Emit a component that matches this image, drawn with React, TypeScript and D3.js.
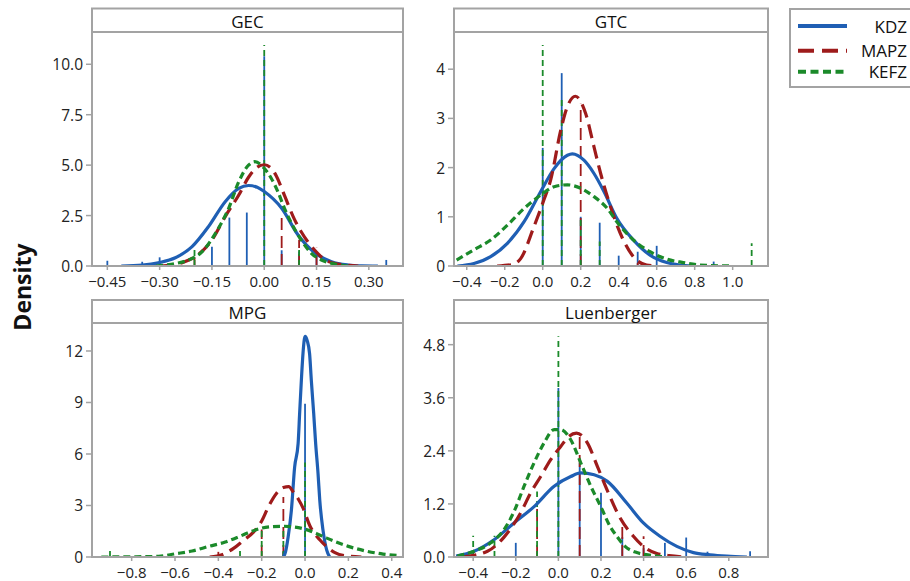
import React from 'react';
import * as d3 from 'd3';

// series names, colours, dash patterns
const seriesNames = ['KDZ', 'MAPZ', 'KEFZ'];
const seriesColors = ['#1f5fb4', '#9e1b1b', '#1b8a2a'];
const seriesDash = [null, '14,7', '7,4'];
const spikeDash = [null, '12,6', '6,4'];

// panel titles and axis ticks
const titles = ['GEC', 'GTC', 'MPG', 'Luenberger'];
const xTicks = [
  [-0.45, -0.3, -0.15, 0, 0.15, 0.3],
  [-0.4, -0.2, 0, 0.2, 0.4, 0.6, 0.8, 1.0],
  [-0.8, -0.6, -0.4, -0.2, 0, 0.2, 0.4],
  [-0.4, -0.2, 0, 0.2, 0.4, 0.6, 0.8],
];
const xTickFormats = ['.2f', '.1f', '.1f', '.1f'];
const yTicks = [
  [0, 2.5, 5, 7.5, 10],
  [0, 1, 2, 3, 4],
  [0, 3, 6, 9, 12],
  [0, 1.2, 2.4, 3.6, 4.8],
];
const yTickFormats = ['.1f', 'd', 'd', '.1f'];
const xDomains = [
  [-0.494, 0.398],
  [-0.467, 1.186],
  [-0.983, 0.452],
  [-0.49, 0.984],
];
const yDomains = [
  [0, 11.6],
  [0, 4.756],
  [0, 13.63],
  [0, 5.29],
];

// density curves [x, density]
const gecKdz = [[-0.41, 0], [-0.35, 0.04], [-0.3, 0.17], [-0.255, 0.41], [-0.207, 0.96], [-0.16, 1.95], [-0.112, 3.19], [-0.073, 3.85], [-0.045, 3.99], [-0.02, 3.9], [0, 3.69], [0.05, 2.86], [0.097, 1.54], [0.145, 0.66], [0.193, 0.21], [0.24, 0.05], [0.28, 0.01], [0.326, 0]];
const gecMapz = [[-0.3, 0], [-0.265, 0.05], [-0.23, 0.2], [-0.198, 0.46], [-0.15, 1.29], [-0.112, 2.45], [-0.073, 3.52], [-0.045, 4.4], [-0.02, 4.9], [0, 5.02], [0.02, 4.85], [0.035, 4.45], [0.058, 3.5], [0.087, 2.3], [0.106, 1.7], [0.125, 1.2], [0.145, 0.78], [0.173, 0.32], [0.21, 0.1], [0.27, 0]];
const gecKefz = [[-0.31, 0], [-0.284, 0.05], [-0.25, 0.14], [-0.217, 0.3], [-0.178, 0.71], [-0.14, 1.62], [-0.102, 2.86], [-0.073, 4.18], [-0.045, 5.0], [-0.027, 5.17], [-0.004, 4.92], [0.02, 4.35], [0.039, 3.69], [0.058, 2.86], [0.078, 2.12], [0.106, 1.29], [0.135, 0.63], [0.164, 0.3], [0.202, 0.1], [0.24, 0]];

const gtcKdz = [[-0.449, 0], [-0.362, 0.05], [-0.274, 0.19], [-0.186, 0.46], [-0.098, 0.9], [-0.011, 1.51], [0.06, 1.98], [0.13, 2.25], [0.156, 2.28], [0.217, 2.15], [0.27, 1.88], [0.323, 1.51], [0.39, 0.97], [0.477, 0.53], [0.565, 0.22], [0.653, 0.07], [0.72, 0.02], [0.79, 0]];
const gtcMapz = [[-0.24, 0], [-0.16, 0.03], [-0.116, 0.15], [-0.046, 0.8], [0.007, 1.35], [0.042, 1.75], [0.095, 2.76], [0.13, 3.24], [0.172, 3.45], [0.226, 3.1], [0.27, 2.42], [0.305, 1.88], [0.349, 1.3], [0.375, 1.0], [0.424, 0.53], [0.477, 0.19], [0.547, 0.02], [0.6, 0]];
const gtcKefz = [[-0.453, 0.12], [-0.362, 0.33], [-0.274, 0.53], [-0.186, 0.83], [-0.098, 1.17], [-0.011, 1.44], [0.06, 1.61], [0.13, 1.65], [0.2, 1.58], [0.27, 1.41], [0.34, 1.17], [0.39, 0.9], [0.477, 0.53], [0.565, 0.29], [0.653, 0.14], [0.74, 0.07], [0.828, 0.02], [1.0, 0]];

const mpgKdz = [[-0.1, 0], [-0.09, 0.3], [-0.078, 1.16], [-0.063, 2.72], [-0.048, 5.24], [-0.032, 6.6], [-0.025, 8.35], [-0.017, 10.29], [-0.009, 11.94], [0, 12.85], [0.01, 12.6], [0.021, 11.84], [0.029, 10.29], [0.04, 8.35], [0.049, 6.6], [0.06, 4.86], [0.068, 3.3], [0.083, 1.55], [0.1, 0.4], [0.114, 0]];
const mpgMapz = [[-0.44, 0], [-0.38, 0.15], [-0.33, 0.5], [-0.284, 0.97], [-0.238, 1.45], [-0.2, 2.1], [-0.17, 2.9], [-0.132, 3.7], [-0.1, 4.05], [-0.075, 4.1], [-0.055, 3.8], [-0.03, 3.35], [-0.009, 2.85], [0.021, 1.85], [0.068, 1.0], [0.1, 0.6], [0.138, 0.25], [0.18, 0.08], [0.26, 0]];
const mpgKefz = [[-0.94, 0], [-0.8, 0.01], [-0.675, 0.04], [-0.598, 0.19], [-0.521, 0.35], [-0.444, 0.62], [-0.368, 0.87], [-0.291, 1.26], [-0.245, 1.5], [-0.2, 1.68], [-0.15, 1.77], [-0.1, 1.79], [-0.05, 1.75], [0, 1.62], [0.054, 1.36], [0.1, 1.1], [0.138, 0.9], [0.2, 0.62], [0.276, 0.36], [0.36, 0.17], [0.44, 0.08]];

const luenKdz = [[-0.48, 0.02], [-0.396, 0.13], [-0.302, 0.39], [-0.208, 0.77], [-0.114, 1.14], [-0.02, 1.6], [0.058, 1.82], [0.105, 1.9], [0.168, 1.86], [0.23, 1.71], [0.321, 1.22], [0.399, 0.77], [0.477, 0.47], [0.556, 0.24], [0.634, 0.1], [0.712, 0.05], [0.791, 0.02], [0.885, 0]];
const luenMapz = [[-0.45, 0], [-0.333, 0.13], [-0.255, 0.45], [-0.177, 1.0], [-0.13, 1.45], [-0.083, 1.82], [-0.036, 2.2], [0.011, 2.5], [0.05, 2.73], [0.085, 2.8], [0.136, 2.58], [0.183, 2.05], [0.23, 1.5], [0.29, 0.88], [0.352, 0.47], [0.399, 0.24], [0.462, 0.08], [0.52, 0.03], [0.59, 0]];
const luenKefz = [[-0.474, 0.02], [-0.396, 0.13], [-0.317, 0.32], [-0.255, 0.62], [-0.208, 1.03], [-0.161, 1.6], [-0.114, 2.13], [-0.067, 2.58], [-0.02, 2.88], [0.011, 2.88], [0.058, 2.65], [0.105, 2.13], [0.152, 1.6], [0.199, 1.14], [0.243, 0.69], [0.274, 0.47], [0.313, 0.24], [0.368, 0.1], [0.446, 0.03], [0.5, 0]];

// vertical spikes [x, height]
const gecKdzSpikes = [[-0.45, 0.26], [-0.35, 0.21], [-0.3, 0.43], [-0.15, 0.95], [-0.1, 2.4], [-0.05, 2.65], [0, 10.4], [0.05, 0.78], [0.1, 0.72], [0.15, 0.5], [0.35, 0.3]];
const gecMapzSpikes = [[-0.2, 0.45], [0.05, 2.45], [0.1, 1.3], [0.15, 0.9]];
const gecKefzSpikes = [[-0.2, 0.99], [0, 10.96], [0.1, 0.9]];

const gtcKdzSpikes = [[0, 2.4], [0.1, 3.92], [0.2, 1.0], [0.3, 0.88], [0.4, 0.21], [0.5, 0.29], [0.6, 0.41], [0.9, 0.09]];
const gtcMapzSpikes = [[0.2, 3.3], [0.5, 0.06]];
const gtcKefzSpikes = [[0, 4.49], [0.1, 3.4], [0.2, 1.0], [0.3, 0.5], [1.1, 0.46]];

const mpgKdzSpikes = [[0, 8.93], [-0.1, 0.3]];
const mpgMapzSpikes = [[-0.4, 0.3], [-0.2, 1.6], [-0.1, 3.5]];
const mpgKefzSpikes = [[-0.9, 0.5], [-0.3, 0.55], [-0.2, 1.65], [-0.1, 1.7], [0, 5.5]];

const luenKdzSpikes = [[-0.2, 0.32], [0, 3.82], [0.1, 2.13], [0.2, 1.45], [0.3, 0.45], [0.4, 0.2], [0.5, 0.32], [0.6, 0.44], [0.7, 0.12], [0.9, 0.13]];
const luenMapzSpikes = [[-0.1, 1.2], [0.1, 2.73], [0.3, 0.75], [0.4, 0.47]];
const luenKefzSpikes = [[-0.4, 0.48], [-0.3, 0.48], [-0.1, 1.48], [0, 4.99]];

const curves = [
  [gecKdz, gecMapz, gecKefz],
  [gtcKdz, gtcMapz, gtcKefz],
  [mpgKdz, mpgMapz, mpgKefz],
  [luenKdz, luenMapz, luenKefz],
];
const spikes = [
  [gecKdzSpikes, gecMapzSpikes, gecKefzSpikes],
  [gtcKdzSpikes, gtcMapzSpikes, gtcKefzSpikes],
  [mpgKdzSpikes, mpgMapzSpikes, mpgKefzSpikes],
  [luenKdzSpikes, luenMapzSpikes, luenKefzSpikes],
];

const width = 910,
  height = 581;
const frameColor = '#a3a3a3';
const font = "'Open Sans', 'Noto Sans', sans-serif";

// panel boxes: left, right, top, strip bottom, plot bottom
const boxes = [
  { left: 92, right: 403, top: 8.5, strip: 32, bottom: 266 },
  { left: 454, right: 768, top: 8.5, strip: 32, bottom: 266 },
  { left: 92, right: 403, top: 300, strip: 323, bottom: 557 },
  { left: 454, right: 768, top: 300, strip: 323, bottom: 557 },
];

function Panel({ i }: { i: number }) {
  const b = boxes[i];
  const x = d3.scaleLinear().domain(xDomains[i]).range([b.left, b.right]);
  const y = d3.scaleLinear().domain(yDomains[i]).range([b.bottom, b.strip]);
  const line = d3
    .line<number[]>()
    .x((d) => x(d[0]))
    .y((d) => y(d[1]))
    .curve(d3.curveMonotoneX);
  const fx = d3.format(xTickFormats[i]);
  const fy = d3.format(yTickFormats[i]);
  const clipId = `clip-${i}`;
  return (
    <g>
      <clipPath id={clipId}>
        <rect x={b.left} y={b.strip} width={b.right - b.left} height={b.bottom - b.strip} />
      </clipPath>
      <g clipPath={`url(#${clipId})`}>
        {spikes[i].map((s, k) =>
          s.map((d, j) => (
            <line
              key={`s${k}-${j}`}
              x1={x(d[0])}
              x2={x(d[0])}
              y1={y(0)}
              y2={y(d[1])}
              stroke={seriesColors[k]}
              strokeWidth={1.8}
              strokeDasharray={spikeDash[k] ?? undefined}
            />
          ))
        )}
        {curves[i].map((c, k) => (
          <path
            key={`c${k}`}
            d={line(c) ?? ''}
            fill="none"
            stroke={seriesColors[k]}
            strokeWidth={3.2}
            strokeDasharray={seriesDash[k] ?? undefined}
          />
        ))}
      </g>
      {/* frame and title strip */}
      <rect
        x={b.left}
        y={b.top}
        width={b.right - b.left}
        height={b.bottom - b.top}
        fill="none"
        stroke={frameColor}
        strokeWidth={2}
      />
      <line x1={b.left} x2={b.right} y1={b.strip} y2={b.strip} stroke={frameColor} strokeWidth={2} />
      <text
        x={(b.left + b.right) / 2}
        y={(b.top + b.strip) / 2 + 1}
        textAnchor="middle"
        dominantBaseline="central"
        fontFamily={font}
        fontSize={17}
        fill="#111"
      >
        {titles[i]}
      </text>
      {/* y axis */}
      {yTicks[i].map((t) => (
        <g key={`y${t}`}>
          <line x1={b.left - 6} x2={b.left} y1={y(t)} y2={y(t)} stroke={frameColor} strokeWidth={1.5} />
          <text
            x={b.left - 9}
            y={y(t)}
            textAnchor="end"
            dominantBaseline="central"
            fontFamily={font}
            fontSize={15.5}
            fill="#222"
          >
            {fy(t)}
          </text>
        </g>
      ))}
      {/* x axis */}
      {xTicks[i].map((t) => (
        <g key={`x${t}`}>
          <line x1={x(t)} x2={x(t)} y1={b.bottom} y2={b.bottom + 4} stroke={frameColor} strokeWidth={1.5} />
          <text
            x={x(t)}
            y={b.bottom + 15}
            textAnchor="middle"
            dominantBaseline="central"
            fontFamily={font}
            fontSize={15}
            fill="#222"
          >
            {fx(t)}
          </text>
        </g>
      ))}
    </g>
  );
}

function Legend() {
  const rows = [26, 50.7, 71.7];
  return (
    <g>
      <rect x={790} y={9} width={140} height={78} fill="none" stroke={frameColor} strokeWidth={2} />
      {seriesNames.map((name, k) => (
        <g key={name}>
          <line
            x1={798}
            x2={847}
            y1={rows[k]}
            y2={rows[k]}
            stroke={seriesColors[k]}
            strokeWidth={4}
            strokeDasharray={k === 1 ? '16,8' : k === 2 ? '8,4.5' : undefined}
          />
          <text
            x={907}
            y={rows[k]}
            textAnchor="end"
            dominantBaseline="central"
            fontFamily={font}
            fontSize={17}
            fill="#111"
          >
            {name}
          </text>
        </g>
      ))}
    </g>
  );
}

export default function App() {
  return (
    <svg
      width={width}
      height={height}
      viewBox={`0 0 ${width} ${height}`}
      style={{ position: 'absolute', left: 0, top: 0, background: '#fff' }}
    >
      {titles.map((t, i) => (
        <Panel key={t} i={i} />
      ))}
      <Legend />
      <text
        transform="translate(22,287) rotate(-90)"
        textAnchor="middle"
        dominantBaseline="central"
        fontFamily={font}
        fontSize={23}
        fontWeight="bold"
        fill="#111"
      >
        Density
      </text>
    </svg>
  );
}
